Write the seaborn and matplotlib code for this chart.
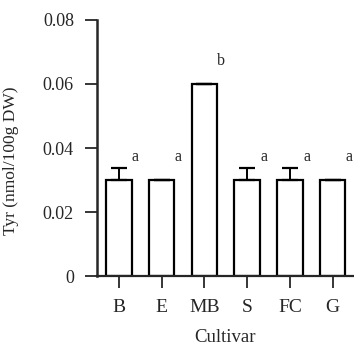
import seaborn as sns
import matplotlib.pyplot as plt
import numpy as np

cultivares = ['B', 'E', 'MB', 'S', 'FC', 'G']
tyr = [0.030, 0.030, 0.060, 0.030, 0.030, 0.030]
erro_sup = [0.0038, 0.0, 0.0, 0.0038, 0.0038, 0.0]
letras = ['a', 'a', 'b', 'a', 'a', 'a']
y_ticks = [0, 0.02, 0.04, 0.06, 0.08]
y_labels = ['0', '0.02', '0.04', '0.06', '0.08']

sns.set_style('ticks')
plt.rcParams['font.family'] = ['Liberation Serif', 'DejaVu Serif']

fig = plt.figure(figsize=(3.54, 3.55), dpi=100)
ax = fig.add_axes([0.274, 0.222, 0.726, 0.722])

sns.barplot(x=cultivares, y=tyr, color='white', edgecolor='black', linewidth=1.6, width=0.6, ax=ax)
ax.errorbar(np.arange(len(cultivares)), tyr,
            yerr=[np.zeros(len(tyr)), erro_sup],
            fmt='none', ecolor='black', elinewidth=1.4, capsize=5.5, capthick=1.6)

# letras de significancia
for i, (v, l) in enumerate(zip(tyr, letras)):
    ax.text(i + 0.39, v + 0.0072, l, ha='center', va='center', fontsize=11.5)

ax.set_xlim(-0.51, 5.5)
ax.set_ylim(0, 0.08)
ax.set_yticks(y_ticks)
ax.set_yticklabels(y_labels, fontsize=13)
ax.tick_params(axis='x', labelsize=14, length=8.6, width=1.3, pad=8)
ax.tick_params(axis='y', length=8.6, width=1.3, pad=8)
for s in ['top', 'right']:
    ax.spines[s].set_visible(False)
ax.spines['left'].set_linewidth(1.8)
ax.spines['bottom'].set_linewidth(1.6)

ax.set_xlabel('Cultivar', fontsize=13.5, labelpad=9)
ax.set_ylabel('Tyr (nmol/100g DW)', fontsize=12.5)
ax.yaxis.set_label_coords(-0.305, 0.45)

plt.savefig('out.png', dpi=100)
